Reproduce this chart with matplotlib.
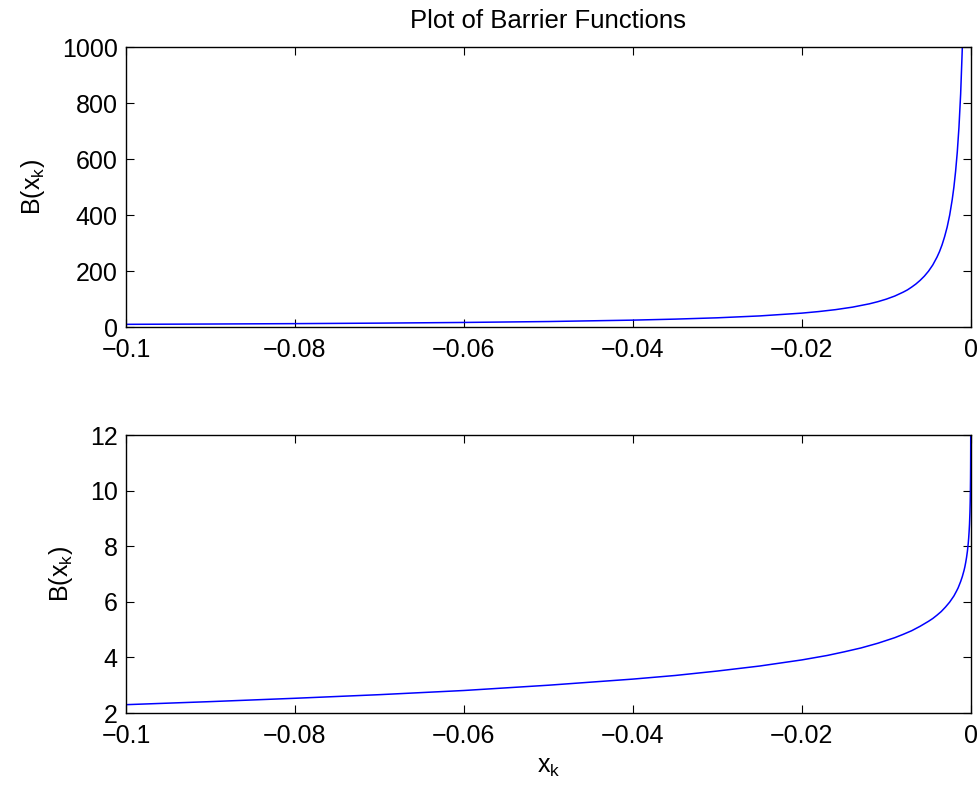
import matplotlib
matplotlib.use("Agg")
import matplotlib.pyplot as plt

# ---- Configuration ----
plt.rcParams.update({
    "font.family": ["Liberation Sans", "DejaVu Sans"],
    "font.size": 18,
    "mathtext.default": "regular",
    "axes.linewidth": 1.0,
    "xtick.direction": "in",
    "ytick.direction": "in",
    "xtick.top": True,
    "ytick.right": True,
    "xtick.major.size": 6,
    "ytick.major.size": 6,
})

# ---- Data ----
# top panel: inverse barrier
x_top = [-0.1, -0.09, -0.08, -0.07, -0.06, -0.05, -0.04, -0.035, -0.03, -0.025,
         -0.02, -0.018, -0.016, -0.014, -0.012, -0.011, -0.01, -0.009, -0.008,
         -0.0075, -0.007, -0.0065, -0.006, -0.0055, -0.005, -0.0045, -0.004,
         -0.0037, -0.0034, -0.0031, -0.0028, -0.0025, -0.0022, -0.002,
         -0.0018, -0.0016, -0.0014, -0.0012, -0.001]
b_top = [10, 11.1, 12.5, 14.3, 16.7, 20, 25, 28.6, 33.3, 40,
         50, 55.6, 62.5, 71.4, 83.3, 90.9, 100, 111, 125,
         133, 143, 154, 167, 182, 200, 222, 250,
         270, 294, 323, 357, 400, 455, 500,
         556, 625, 714, 833, 1000]

# bottom panel: log barrier
x_bot = [-0.1, -0.09, -0.08, -0.07, -0.06, -0.05, -0.04, -0.035, -0.03, -0.025,
         -0.02, -0.017, -0.015, -0.013, -0.011, -0.01, -0.009, -0.008, -0.007,
         -0.006, -0.005, -0.0045, -0.004, -0.0035, -0.003, -0.0025, -0.002,
         -0.0017, -0.0015, -0.0012, -0.001, -0.0008, -0.0007, -0.0006, -0.0005,
         -0.0004, -0.0003, -0.00025, -0.0002, -0.00015, -0.0001, -0.00007,
         -0.00005, -0.00003, -0.00002, -0.000015, -0.00001, -0.000006]
b_bot = [2.30, 2.41, 2.53, 2.66, 2.81, 3.00, 3.22, 3.35, 3.51, 3.69,
         3.91, 4.07, 4.20, 4.34, 4.51, 4.61, 4.71, 4.83, 4.96,
         5.12, 5.30, 5.40, 5.52, 5.65, 5.81, 5.99, 6.21,
         6.38, 6.50, 6.73, 6.91, 7.13, 7.26, 7.42, 7.60,
         7.82, 8.11, 8.29, 8.52, 8.80, 9.21, 9.57,
         9.90, 10.41, 10.82, 11.11, 11.51, 12.02]

x_ticks = [-0.1, -0.08, -0.06, -0.04, -0.02, 0]
x_ticklabels = ["\u22120.1", "\u22120.08", "\u22120.06", "\u22120.04", "\u22120.02", "0"]
top_yticks = [0, 200, 400, 600, 800, 1000]
bot_yticks = [2, 4, 6, 8, 10, 12]

fig = plt.figure(figsize=(9.8, 7.94), dpi=100)
ax1 = fig.add_axes([0.1286, 0.588, 0.862, 0.3526])
ax2 = fig.add_axes([0.1286, 0.102, 0.862, 0.3501])

ax1.plot(x_top, b_top, color="blue", lw=1.1)
ax1.set_xlim(-0.1, 0)
ax1.set_ylim(0, 1000)
ax1.set_yticks(top_yticks)
ax1.set_xticks(x_ticks)
ax1.set_xticklabels(x_ticklabels)
ax1.set_ylabel("B(x$_k$)")
ax1.yaxis.set_label_coords(-0.093, 0.5)
ax1.set_title("Plot of Barrier Functions", fontsize=18.5, pad=14)

ax2.plot(x_bot, b_bot, color="blue", lw=1.1)
ax2.set_xlim(-0.1, 0)
ax2.set_ylim(2, 12)
ax2.set_yticks(bot_yticks)
ax2.set_xticks(x_ticks)
ax2.set_xticklabels(x_ticklabels)
ax2.set_ylabel("B(x$_k$)")
ax2.yaxis.set_label_coords(-0.060, 0.5)
ax2.set_xlabel("x$_k$", labelpad=5)

for ax in (ax1, ax2):
    ax.tick_params(axis="x", pad=8)
    ax.tick_params(axis="y", pad=6)

fig.savefig("out.png", dpi=100)
